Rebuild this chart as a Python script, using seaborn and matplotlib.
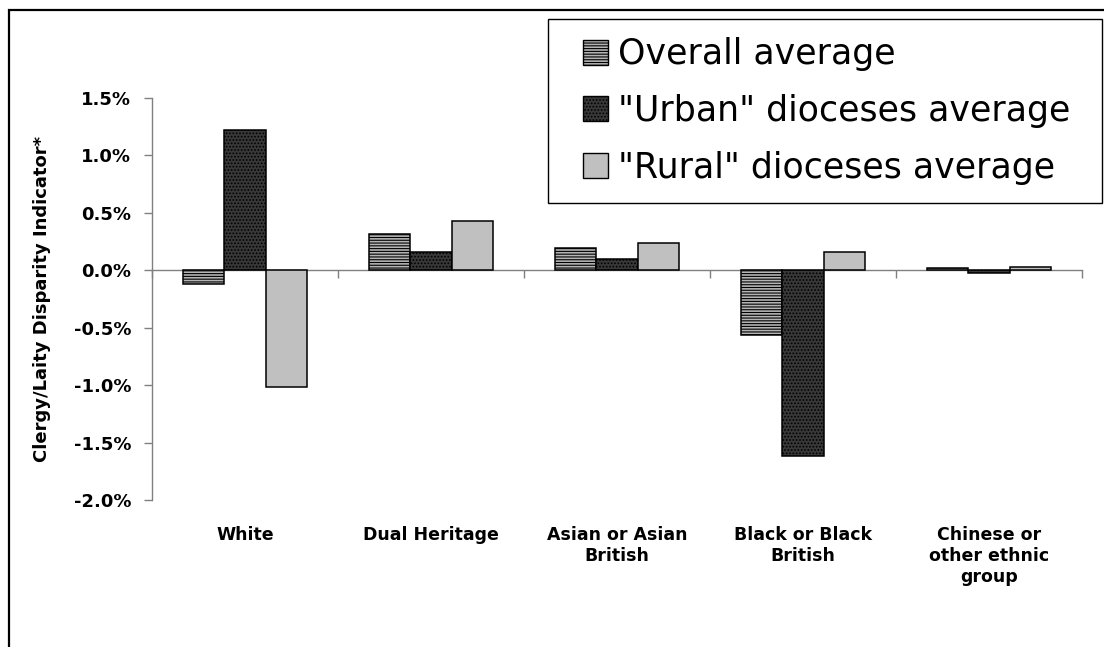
import matplotlib
matplotlib.use("Agg")
import matplotlib.pyplot as plt
import pandas as pd
import seaborn as sns
from matplotlib.patches import Rectangle, Patch
from matplotlib.legend_handler import HandlerPatch
from matplotlib.ticker import PercentFormatter

# ---- data (percentage points) ----
groups = ["White", "Dual Heritage", "Asian or Asian\nBritish",
          "Black or Black\nBritish", "Chinese or\nother ethnic\ngroup"]
series = ["Overall average", '"Urban" dioceses average', '"Rural" dioceses average']
overall = [-0.12, 0.32, 0.19, -0.56, 0.02]
urban = [1.22, 0.16, 0.10, -1.62, -0.02]
rural = [-1.02, 0.43, 0.24, 0.16, 0.03]
y_ticks = [-2.0, -1.5, -1.0, -0.5, 0.0, 0.5, 1.0, 1.5]

# ---- styling ----
sns.set_style("white")
plt.rcParams["font.family"] = ["DejaVu Sans"]
plt.rcParams["axes.unicode_minus"] = False
plt.rcParams["hatch.linewidth"] = 0.8
plt.rcParams["text.color"] = "black"
plt.rcParams["axes.labelcolor"] = "black"
plt.rcParams["xtick.labelcolor"] = "black"
plt.rcParams["ytick.labelcolor"] = "black"

face = ["#b4b4b4", "#383838", "#c0c0c0"]
hatch = ["------", ".....", ""]
hatch_col = ["#484848", "#7a7a7a", "black"]

W, H = 1104, 647
fig = plt.figure(figsize=(W / 100, H / 100), dpi=100)
ax = fig.add_axes([152 / W, 1 - 500 / H, 930 / W, 402 / H])

df = pd.DataFrame({
    "group": groups * 3,
    "series": [series[0]] * 5 + [series[1]] * 5 + [series[2]] * 5,
    "value": overall + urban + rural,
})

sns.barplot(data=df, x="group", y="value", hue="series", order=groups,
            hue_order=series, palette=face, saturation=1, width=0.67,
            edgecolor="black", linewidth=1.1, errorbar=None, legend=False, ax=ax)

for i, cont in enumerate(ax.containers):
    for bar in cont:
        bar.set_facecolor(face[i])
        if hatch[i]:
            bar.set_hatch(hatch[i])
            if hasattr(bar, "set_hatchcolor"):
                bar.set_hatchcolor(hatch_col[i])

ax.set_xlim(-0.5, len(groups) - 0.5)
ax.set_ylim(y_ticks[0], y_ticks[-1])
ax.set_yticks(y_ticks)
ax.yaxis.set_major_formatter(PercentFormatter(xmax=100, decimals=1))
ax.set_xlabel("")
ax.set_ylabel("")

for s in ["top", "right", "bottom"]:
    ax.spines[s].set_visible(False)
ax.spines["left"].set_color("#808080")
ax.spines["left"].set_linewidth(1.0)

ax.tick_params(axis="y", left=True, direction="out", length=6, width=1,
               color="#808080", labelcolor="black", pad=9, labelsize=13)
for lab in ax.get_yticklabels():
    lab.set_fontweight("bold")
ax.tick_params(axis="x", bottom=True, length=0, pad=19, labelsize=12.5,
               labelcolor="black")
for lab in ax.get_xticklabels():
    lab.set_fontweight("bold")
    lab.set_multialignment("center")

# category axis drawn through zero, with ticks between the groups
zero_frac = (0 - y_ticks[0]) / (y_ticks[-1] - y_ticks[0])
sec = ax.secondary_xaxis(zero_frac)
sec.set_alignment("bottom")
sec.set_xticks([k - 0.5 for k in range(len(groups) + 1)])
sec.set_xticklabels([])
sec.tick_params(axis="x", direction="out", length=6, width=1, color="#808080")
for s in sec.spines.values():
    s.set_color("#808080")
    s.set_linewidth(1.0)

fig.text(42 / W, 1 - 299 / H, "Clergy/Laity Disparity Indicator*",
         rotation=90, ha="center", va="center", fontsize=13, fontweight="bold",
         color="black")


# legend: square swatches sitting at the right of the handle box
def square_patch(legend, orig_handle, xdescent, ydescent, width, height, fontsize):
    side = 18
    return Rectangle((-xdescent + width - side, -ydescent + (height - side) / 2),
                     side, side)


handles = []
for i in range(3):
    p = Patch(facecolor=face[i], edgecolor="black", linewidth=1.0, hatch=hatch[i])
    if hatch[i] and hasattr(p, "set_hatchcolor"):
        p.set_hatchcolor(hatch_col[i])
    handles.append(p)

x0, y0, x1, y1 = 548, 19, 1102, 198
leg = fig.legend(handles, series, loc="upper left",
                 bbox_to_anchor=(x0 / W, 1 - y1 / H, (x1 - x0) / W, (y1 - y0) / H),
                 bbox_transform=fig.transFigure, mode="expand",
                 borderaxespad=0, borderpad=0.53, labelspacing=0.65,
                 handlelength=1.19, handleheight=0.7, handletextpad=0.29,
                 fontsize=25, frameon=True, fancybox=False, framealpha=1,
                 edgecolor="black", labelcolor="black",
                 handler_map={Patch: HandlerPatch(patch_func=square_patch)})
leg.get_frame().set_linewidth(1.0)

# outer frame
fig.patches.append(Rectangle((9 / W, -0.05), 1.1, 1 - 9.5 / H + 0.05,
                             transform=fig.transFigure, fill=False,
                             edgecolor="black", linewidth=1.6))

fig.savefig("out.png", dpi=100)
